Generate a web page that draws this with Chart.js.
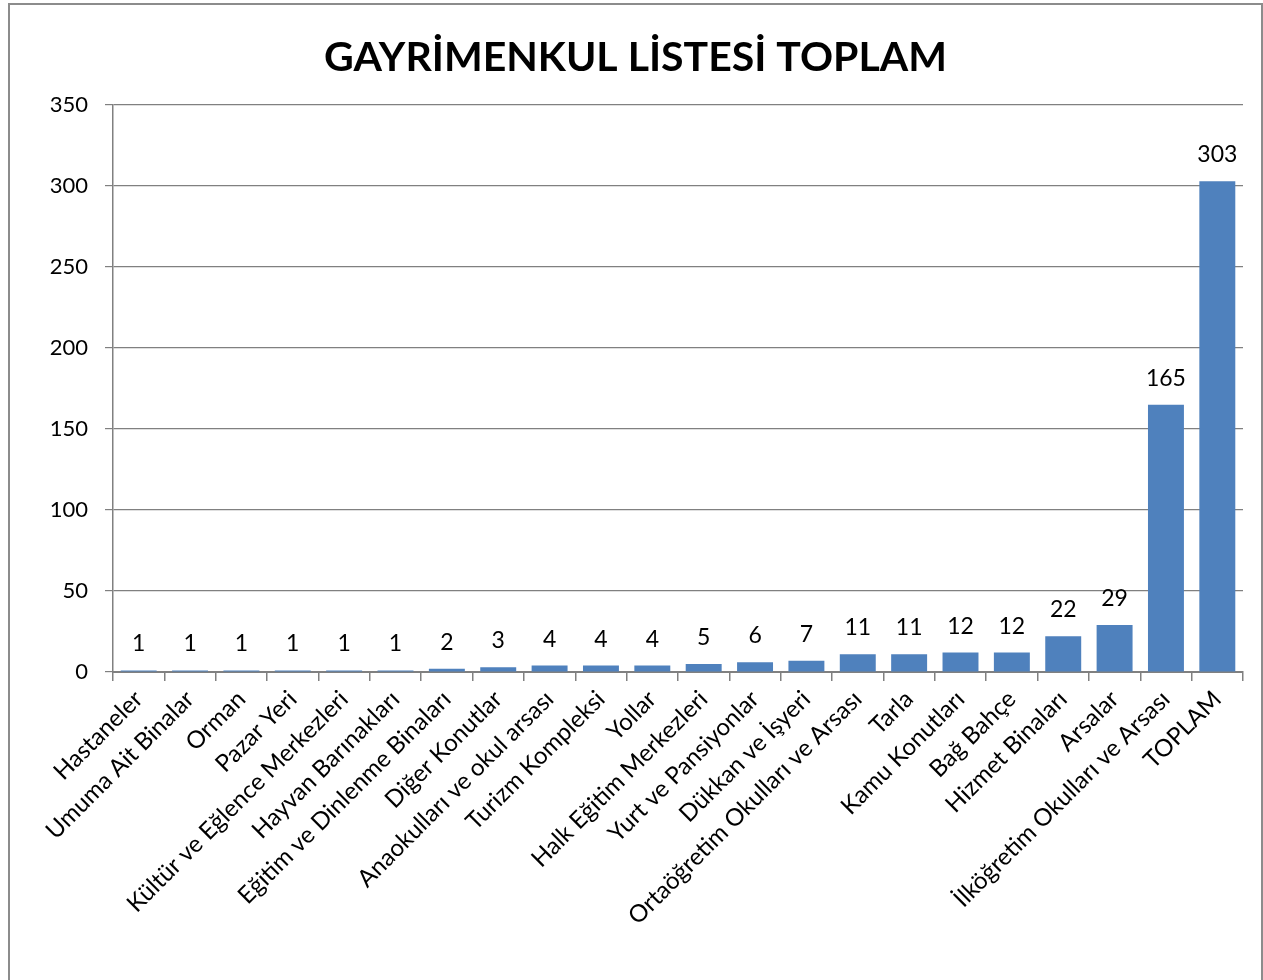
<!DOCTYPE html>
<html>
<head>
<meta charset="utf-8">
<script src="https://cdn.jsdelivr.net/npm/chart.js@4"></script>
<style>
  html, body { margin: 0; padding: 0; background: #fff; overflow: hidden; }
  #frame {
    position: absolute; left: 8px; top: 3px; width: 1255px; height: 1000px;
    border: 2px solid #8c8c8c; border-bottom: none; box-sizing: border-box;
  }
  #wrap { position: absolute; left: 0; top: 0; width: 1263px; height: 980px; }
</style>
</head>
<body>
<div id="frame"></div>
<div id="wrap"><canvas id="grafik" width="1263" height="980"></canvas></div>
<script>
// Kategoriler ve değerler
const kategoriler = [
  'Hastaneler', 'Umuma Ait Binalar', 'Orman', 'Pazar Yeri',
  'Kültür ve Eğlence Merkezleri', 'Hayvan Barınakları', 'Eğitim ve Dinlenme Binaları',
  'Diğer Konutlar', 'Anaokulları ve okul arsası', 'Turizm Kompleksi', 'Yollar',
  'Halk Eğitim Merkezleri', 'Yurt ve Pansiyonlar', 'Dükkan ve İşyeri',
  'Ortaöğretim Okulları ve Arsası', 'Tarla', 'Kamu Konutları', 'Bağ Bahçe',
  'Hizmet Binaları', 'Arsalar', 'İlköğretim Okulları ve Arsası', 'TOPLAM'
];
const degerler = [1, 1, 1, 1, 1, 1, 2, 3, 4, 4, 4, 5, 6, 7, 11, 11, 12, 12, 22, 29, 165, 303];
const yEksenMax = 350;
const yEksenAdim = 50;

const FONT = 'Lato, Carlito, Calibri, sans-serif';

// Çubukların üstüne değer yazan küçük eklenti
const degerEtiketleri = {
  id: 'degerEtiketleri',
  afterDatasetsDraw(chart) {
    const ctx = chart.ctx;
    const meta = chart.getDatasetMeta(0);
    ctx.save();
    ctx.font = '23px ' + FONT;
    ctx.fillStyle = '#000';
    ctx.textAlign = 'center';
    ctx.textBaseline = 'alphabetic';
    meta.data.forEach((bar, i) => {
      ctx.fillText(String(chart.data.datasets[0].data[i]), bar.x, bar.y - 19);
    });
    ctx.restore();
  }
};

new Chart(document.getElementById('grafik'), {
  type: 'bar',
  data: {
    labels: kategoriler,
    datasets: [{
      label: 'Toplam',
      data: degerler,
      backgroundColor: '#4F81BD',
      borderWidth: 0,
      barPercentage: 0.7,
      categoryPercentage: 1.0
    }]
  },
  options: {
    responsive: false,
    animation: false,
    // sol boşluk + eksen genişliği = 113 (başlık ortalansın diye)
    layout: { padding: { left: 28, right: 20, top: 0, bottom: 0 } },
    plugins: {
      legend: { display: false },
      tooltip: { enabled: false },
      title: {
        display: true,
        text: 'GAYRİMENKUL LİSTESİ TOPLAM',
        color: '#000',
        font: { family: FONT, size: 41, weight: 'bold' },
        padding: { top: 33, bottom: 22.8 }
      }
    },
    scales: {
      y: {
        min: 0,
        max: yEksenMax,
        afterFit(scale) { scale.width = 85; },
        ticks: {
          stepSize: yEksenAdim,
          color: '#000',
          padding: 17,
          font: { family: FONT, size: 22 }
        },
        grid: { color: '#808080', lineWidth: 1.2, tickLength: 8 },
        border: { color: '#808080', width: 1.5 }
      },
      x: {
        afterFit(scale) { scale.height = 308; },
        ticks: {
          color: '#000',
          maxRotation: 45,
          minRotation: 45,
          autoSkip: false,
          padding: 4,
          font: { family: FONT, size: 24 }
        },
        grid: { drawOnChartArea: false, color: '#808080', lineWidth: 1.5, tickLength: 9 },
        border: { color: '#808080', width: 2 }
      }
    }
  },
  plugins: [degerEtiketleri]
});
</script>
</body>
</html>
